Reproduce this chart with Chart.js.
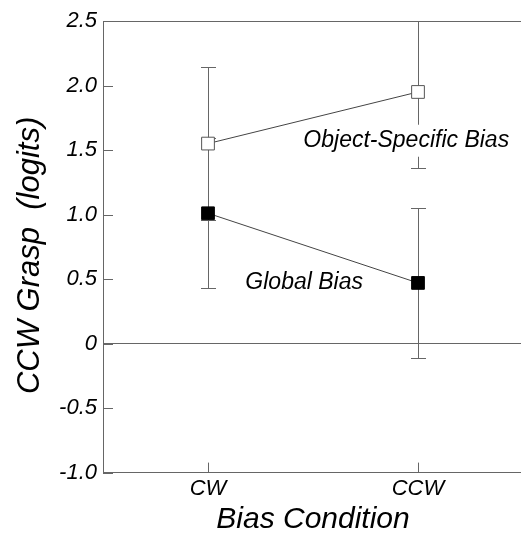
<!DOCTYPE html>
<html>
<head>
<meta charset="utf-8">
<script src="https://cdn.jsdelivr.net/npm/chart.js@4/dist/chart.umd.min.js"></script>
<style>
  html, body { margin: 0; padding: 0; background: #fff; overflow: hidden; }
  canvas { display: block; }
</style>
</head>
<body>
<canvas id="chart" width="533" height="535"></canvas>
<script>
// values (logits)
const conditions = ['CW', 'CCW'];
const objectSpecific = [1.55, 1.95];
const objectLow = [0.96, 1.36];
const objectHigh = [2.14, 2.54];
const globalBias = [1.01, 0.47];
const globalLow = [0.43, -0.11];
const globalHigh = [1.59, 1.05];
const yTicks = [-1.0, -0.5, 0, 0.5, 1.0, 1.5, 2.0, 2.5];
const yTickLabels = ['-1.0', '-0.5', '0', '0.5', '1.0', '1.5', '2.0', '2.5'];

const FAMILY = '"Liberation Sans", Arial, Helvetica, sans-serif';
const AXIS = '#666';

// in-plot labels, anchored in data coordinates
const notes = [
  { text: 'Object-Specific Bias', x: 0.944, y: 1.572, box: true },
  { text: 'Global Bias', x: 0.458, y: 0.47, box: false },
];

const decor = {
  id: 'decor',
  beforeDatasetsDraw(chart) {
    const { ctx, chartArea: a, scales: { x, y } } = chart;
    ctx.save();
    ctx.beginPath();
    ctx.rect(a.left, a.top, a.right - a.left, a.bottom - a.top);
    ctx.clip();
    ctx.strokeStyle = AXIS;
    ctx.lineWidth = 1;
    const bars = (low, high) => low.forEach((lo, i) => {
      const px = Math.round(x.getPixelForValue(i)) + 0.5;
      const y1 = Math.round(y.getPixelForValue(lo)) + 0.5;
      const y2 = Math.round(y.getPixelForValue(high[i])) + 0.5;
      ctx.beginPath();
      ctx.moveTo(px, y1); ctx.lineTo(px, y2);
      ctx.moveTo(px - 7.5, y1); ctx.lineTo(px + 7.5, y1);
      ctx.moveTo(px - 7.5, y2); ctx.lineTo(px + 7.5, y2);
      ctx.stroke();
    });
    bars(objectLow, objectHigh);
    bars(globalLow, globalHigh);
    ctx.restore();
  },
  afterDatasetsDraw(chart) {
    const { ctx, scales: { x, y } } = chart;
    ctx.save();
    ctx.font = 'italic 23px ' + FAMILY;
    ctx.textAlign = 'center';
    ctx.textBaseline = 'middle';
    notes.forEach(n => {
      const px = x.getPixelForValue(n.x), py = y.getPixelForValue(n.y);
      if (n.box) {
        const w = ctx.measureText(n.text).width + 6;
        ctx.fillStyle = '#fff';
        ctx.fillRect(px - w / 2, py - 16, w, 32);
      }
      ctx.fillStyle = '#000';
      ctx.fillText(n.text, px, py);
    });
    ctx.restore();
  },
  afterDraw(chart) {
    // inward tick marks
    const { ctx, chartArea: a, scales: { x, y } } = chart;
    ctx.save();
    ctx.strokeStyle = AXIS;
    ctx.lineWidth = 1;
    ctx.beginPath();
    yTicks.forEach(v => {
      const py = Math.round(y.getPixelForValue(v)) + 0.5;
      ctx.moveTo(a.left, py); ctx.lineTo(a.left + 10, py);
    });
    conditions.forEach((c, i) => {
      const px = Math.round(x.getPixelForValue(i)) + 0.5;
      ctx.moveTo(px, a.bottom); ctx.lineTo(px, a.bottom - 10);
    });
    ctx.stroke();
    ctx.restore();
  }
};

new Chart(document.getElementById('chart'), {
  type: 'line',
  data: {
    datasets: [
      {
        label: 'Object-Specific Bias',
        data: objectSpecific.map((v, i) => ({ x: i, y: v })),
        borderColor: '#444',
        borderWidth: 1,
        pointStyle: 'rect',
        pointRadius: 9,
        pointBackgroundColor: '#fff',
        pointBorderColor: '#555',
        pointBorderWidth: 1,
      },
      {
        label: 'Global Bias',
        data: globalBias.map((v, i) => ({ x: i, y: v })),
        borderColor: '#444',
        borderWidth: 1,
        pointStyle: 'rect',
        pointRadius: 9,
        pointBackgroundColor: '#000',
        pointBorderColor: '#000',
        pointBorderWidth: 1,
      }
    ]
  },
  options: {
    responsive: false,
    animation: false,
    layout: { padding: { top: 21, right: 2, left: 0, bottom: 0 } },
    plugins: { legend: { display: false }, tooltip: { enabled: false } },
    scales: {
      x: {
        type: 'linear',
        min: -0.5, max: 1.5,
        afterBuildTicks: s => { s.ticks = conditions.map((c, i) => ({ value: i })); },
        afterFit: s => { s.height = 62.4; },
        grid: { color: 'rgba(0,0,0,0)', drawTicks: false },
        border: { color: AXIS, width: 1 },
        ticks: {
          padding: 3,
          color: '#000',
          font: { family: FAMILY, size: 22, style: 'italic' },
          callback: v => conditions[v],
        },
        title: {
          display: true,
          text: 'Bias Condition',
          color: '#000',
          padding: 0,
          font: { family: FAMILY, size: 30, style: 'italic', lineHeight: 1 },
        }
      },
      y: {
        min: -1, max: 2.5,
        afterBuildTicks: s => { s.ticks = yTicks.map(v => ({ value: v })); },
        afterFit: s => { s.width = 103; },
        grid: {
          drawTicks: false,
          color: c => (c.tick && (c.tick.value === 0 || c.tick.value === 2.5)) ? AXIS : 'rgba(0,0,0,0)',
        },
        border: { color: AXIS, width: 1 },
        ticks: {
          padding: 6,
          color: '#000',
          font: { family: FAMILY, size: 22, style: 'italic' },
          callback: (v, i) => yTickLabels[i],
        },
        title: {
          display: true,
          text: 'CCW Grasp  (logits)  ',
          color: '#000',
          padding: { top: 15, bottom: 0 },
          font: { family: FAMILY, size: 31, style: 'italic', lineHeight: 1 },
        }
      }
    }
  },
  plugins: [decor]
});
</script>
</body>
</html>
